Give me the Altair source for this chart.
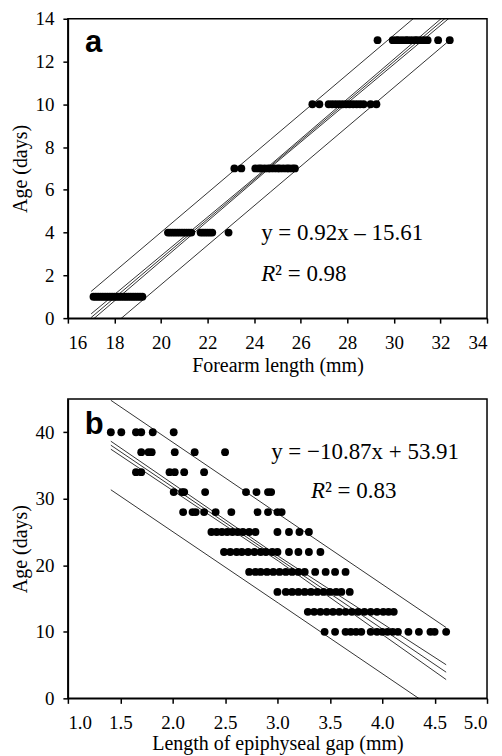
import altair as alt
import pandas as pd

# ---------------- Panel a: Age vs forearm length ----------------
a_ages = [1, 4, 7, 10, 13]
a_x_age1 = [17.1, 17.2, 17.3, 17.4, 17.5, 17.6, 17.7, 17.8, 17.9, 18.0, 18.1,
            18.2, 18.3, 18.4, 18.5, 18.6, 18.7, 18.8, 18.9, 19.0, 19.1, 19.2]
a_x_age4 = [20.3, 20.4, 20.5, 20.6, 20.7, 20.8, 20.9, 21.0, 21.1, 21.2, 21.3,
            21.7, 21.8, 21.9, 22.0, 22.1, 22.2, 22.9]
a_x_age7 = [23.15, 23.45, 24.05, 24.2, 24.3, 24.45, 24.6, 24.7, 24.85, 25.0,
            25.1, 25.25, 25.4, 25.5, 25.65, 25.75]
a_x_age10 = [26.5, 26.8, 27.2, 27.35, 27.5, 27.65, 27.8, 27.95, 28.1, 28.25,
             28.4, 28.55, 28.7, 29.0, 29.25]
a_x_age13 = [29.3, 29.95, 30.1, 30.2, 30.35, 30.5, 30.6, 30.75, 30.9, 31.0,
             31.15, 31.3, 31.45, 31.9, 32.4]
a_rows = [a_x_age1, a_x_age4, a_x_age7, a_x_age10, a_x_age13]

# regression line, 95% confidence and prediction limits
a_line_x = [17.0, 24.7, 32.4]
a_fit = [0.03, 7.11, 14.2]
a_ci_up = [0.2, 7.17, 14.35]
a_ci_lo = [-0.13, 7.05, 14.05]
a_pi_up = [1.25, 8.35, 15.45]
a_pi_lo = [-1.2, 5.9, 13.0]

# ---------------- Panel b: Age vs epiphyseal gap ----------------
b_ages = [40, 37, 34, 31, 28, 25, 22, 19, 16, 13, 10]
b_rows = [
    [1.41, 1.51, 1.65, 1.70, 1.81, 2.01],
    [1.70, 1.77, 1.80, 2.02, 2.21, 2.50],
    [1.65, 1.70, 1.97, 2.02, 2.11, 2.30],
    [2.01, 2.09, 2.11, 2.31, 2.70, 2.80, 2.91, 2.94],
    [2.10, 2.19, 2.22, 2.30, 2.41, 2.56, 2.81, 2.91, 3.00, 3.04],
    [2.37, 2.42, 2.47, 2.52, 2.57, 2.62, 2.67, 2.73, 2.79, 3.00, 3.11, 3.21, 3.30],
    [2.49, 2.55, 2.61, 2.66, 2.72, 2.78, 2.84, 2.89, 2.95, 3.00, 3.11, 3.20, 3.30, 3.41],
    [2.73, 2.79, 2.84, 2.90, 2.96, 3.02, 3.08, 3.14, 3.20, 3.26, 3.36, 3.46, 3.55, 3.65],
    [3.00, 3.08, 3.14, 3.20, 3.26, 3.32, 3.38, 3.44, 3.50, 3.56, 3.61, 3.69],
    [3.29, 3.35, 3.41, 3.47, 3.53, 3.59, 3.65, 3.71, 3.77, 3.83, 3.89, 3.95, 4.01, 4.06, 4.11],
    [3.45, 3.55, 3.65, 3.70, 3.75, 3.80, 3.89, 3.95, 4.00, 4.05, 4.10, 4.15, 4.25, 4.35, 4.46, 4.50, 4.61],
]

b_line_x = [1.41, 3.01, 4.61]
b_fit = [38.05, 20.99, 3.93]
b_ci_up = [38.65, 21.35, 5.05]
b_ci_lo = [37.45, 20.63, 2.82]
b_pi_up = [44.8, 27.7, 10.64]
b_pi_lo = [31.35, 14.3, -2.8]

SERIF = "Liberation Serif"
AXIS_STYLE = dict(
    grid=False, domainColor="black", domainWidth=1.5, tickColor="black",
    tickWidth=1.5, tickSize=5, labelFont=SERIF, labelFontSize=19,
    labelColor="black", titleFont=SERIF, titleFontSize=20,
    titleFontWeight="normal", titleColor="black",
)


def points_df(ages, rows):
    recs = []
    for age, xs in zip(ages, rows):
        for x in xs:
            recs.append({"x": x, "y": age})
    return pd.DataFrame(recs)


def lines_df(xs, series):
    recs = []
    for name, ys in series.items():
        for i, (x, y) in enumerate(zip(xs, ys)):
            recs.append({"x": x, "y": y, "line": name, "o": i})
    return pd.DataFrame(recs)


def panel(pts, lns, xdom, ydom, xticks, yticks, xfmt, xtitle, letter, eq, r2,
          label_pad_x, title_pad_x):
    xs = alt.Scale(domain=xdom, nice=False, zero=False)
    ys = alt.Scale(domain=ydom, nice=False, zero=False)
    xax = alt.Axis(values=xticks, format=xfmt, title=xtitle,
                   labelPadding=label_pad_x, titlePadding=title_pad_x, **AXIS_STYLE)
    yax = alt.Axis(values=yticks, title="Age (days)",
                   labelPadding=9, titlePadding=4, **AXIS_STYLE)
    dots = alt.Chart(pts).mark_circle(size=62, color="black", opacity=1).encode(
        x=alt.X("x:Q", scale=xs, axis=xax),
        y=alt.Y("y:Q", scale=ys, axis=yax),
    )
    lines = alt.Chart(lns).mark_line(color="black", strokeWidth=0.8, clip=True).encode(
        x=alt.X("x:Q", scale=xs),
        y=alt.Y("y:Q", scale=ys),
        detail="line:N",
        order="o:Q",
    )
    let = alt.Chart(pd.DataFrame([letter])).mark_text(
        font="Liberation Sans", fontWeight="bold", fontSize=31, align="left",
        baseline="alphabetic", color="black").encode(
        x="x:Q", y="y:Q", text="t:N")
    eqm = alt.Chart(pd.DataFrame([eq])).mark_text(
        font=SERIF, fontSize=23, align="left", baseline="middle", color="black").encode(
        x="x:Q", y="y:Q", text="t:N")
    rm = alt.Chart(pd.DataFrame([r2])).mark_text(
        font=SERIF, fontSize=23, fontStyle="italic", align="left", baseline="middle",
        color="black").encode(x="x:Q", y="y:Q", text=alt.value("R"))
    rrest = alt.Chart(pd.DataFrame([r2])).mark_text(
        font=SERIF, fontSize=23, align="left", baseline="middle", dx=14,
        color="black").encode(x="x:Q", y="y:Q", text="t:N")
    return alt.layer(lines, dots, let, eqm, rm, rrest).properties(width=420, height=300)


pa = panel(
    points_df(a_ages, a_rows),
    lines_df(a_line_x, {"fit": a_fit, "ci_up": a_ci_up, "ci_lo": a_ci_lo,
                        "pi_up": a_pi_up, "pi_lo": a_pi_lo}),
    [16, 34], [0, 14], list(range(16, 35, 2)), list(range(0, 15, 2)), "d",
    "Forearm length (mm)",
    {"x": 16.73, "y": 12.46, "t": "a"},
    {"x": 24.3, "y": 4.0, "t": "y = 0.92x – 15.61"},
    {"x": 24.3, "y": 2.05, "t": "² = 0.98"},
    10, 3,
)

pb = panel(
    points_df(b_ages, b_rows),
    lines_df(b_line_x, {"fit": b_fit, "ci_up": b_ci_up, "ci_lo": b_ci_lo,
                        "pi_up": b_pi_up, "pi_lo": b_pi_lo}),
    [1, 5], [0, 45], [1.0, 1.5, 2.0, 2.5, 3.0, 3.5, 4.0, 4.5, 5.0], [0, 10, 20, 30, 40], ".1f",
    "Length of epiphyseal gap (mm)",
    {"x": 1.16, "y": 39.7, "t": "b"},
    {"x": 2.94, "y": 37.0, "t": "y = −10.87x + 53.91"},
    {"x": 3.32, "y": 31.2, "t": "² = 0.83"},
    10, 1,
)

chart = alt.vconcat(pa, pb, spacing=22).properties(
    padding={"left": 2, "top": 0, "right": 5, "bottom": 0}
).configure_view(stroke="black", strokeWidth=1.5)

chart.save("out.html", embed_options={"renderer": "svg", "actions": False})
